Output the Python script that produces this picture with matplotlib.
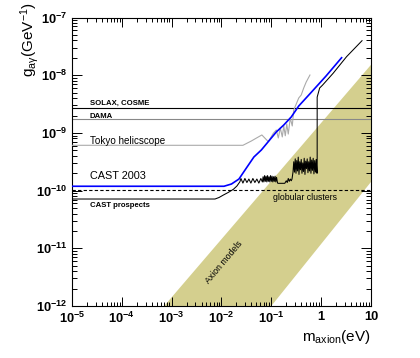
import numpy as np
import matplotlib
matplotlib.use("Agg")
import matplotlib.pyplot as plt
from matplotlib.ticker import LogLocator, FuncFormatter, NullFormatter

plt.rcParams['font.family'] = ['Liberation Sans', 'DejaVu Sans']
plt.rcParams['mathtext.default'] = 'regular'

# all values are log10 (m in eV, g in GeV^-1)
solax_log_g = -8.56
dama_log_g = -8.76
globular_log_g = -9.984

tokyo_log_m = [-5, -1.57, -1.40, -1.30, -1.19, -1.06, -0.96, -0.90, -0.86, -0.82, -0.78,
               -0.75, -0.72, -0.69, -0.66, -0.62, -0.58, -0.55, -0.50, -0.45, -0.40,
               -0.35, -0.30, -0.225]
tokyo_log_g = [-9.215, -9.215, -9.14, -9.09, -9.036, -9.152, -9.007, -8.95, -9.088, -8.915,
               -9.07, -8.88, -9.05, -8.846, -9.02, -8.742, -8.88, -8.603, -8.50, -8.395,
               -8.343, -8.222, -8.118, -7.997]

cast2003_log_m = [-5, -1.95, -1.80, -1.65, -1.50, -1.35, -1.20, -1.05, -0.90, -0.75,
                  -0.60, -0.45, -0.20, 0.10, 0.41]
cast2003_log_g = [-9.925, -9.925, -9.886, -9.80, -9.608, -9.418, -9.296, -9.14, -8.984,
                  -8.863, -8.724, -8.534, -8.298, -8.012, -7.697]

prosp_log_m = [-5, -2.13, -2.05, -1.96, -1.86, -1.76, -1.69, -1.63,
               -1.61, -1.57, -1.53, -1.49, -1.45, -1.41, -1.37, -1.33, -1.29, -1.25, -1.21, -1.18,
               -1.165, -1.15, -1.135, -1.12, -1.105, -1.09, -1.075, -1.06, -1.045, -1.03,
               -1.015, -1.0, -0.985, -0.97, -0.955, -0.94, -0.925, -0.91, -0.895, -0.875,
               -0.86, -0.73, -0.70, -0.68, -0.66, -0.64, -0.62, -0.60, -0.585, -0.565,
               -0.55, -0.535, -0.52, -0.505, -0.49, -0.475, -0.46, -0.445, -0.43, -0.415,
               -0.40, -0.385, -0.37, -0.355, -0.34, -0.325, -0.31, -0.295, -0.28, -0.265,
               -0.25, -0.235, -0.22, -0.205, -0.19, -0.175, -0.16, -0.145, -0.13, -0.115,
               -0.10, -0.085, -0.08, -0.08, -0.03, 0.03, 0.24, 0.51, 0.82]
prosp_log_g = [-10.146, -10.146, -10.12, -10.076, -10.03, -9.977, -9.92, -9.846,
               -9.79, -9.87, -9.79, -9.86, -9.80, -9.87, -9.79, -9.86, -9.80, -9.87, -9.79, -9.85,
               -9.76, -9.85, -9.74, -9.84, -9.75, -9.85, -9.74, -9.84, -9.76, -9.85,
               -9.74, -9.84, -9.75, -9.85, -9.76, -9.84, -9.75, -9.85, -9.77, -9.87,
               -9.874, -9.874, -9.83, -9.86, -9.79, -9.84, -9.80, -9.83, -9.80, -9.68,
               -9.50, -9.68, -9.45, -9.70, -9.48, -9.66, -9.42, -9.72, -9.50, -9.64,
               -9.46, -9.70, -9.52, -9.67, -9.44, -9.72, -9.49, -9.62, -9.45, -9.69,
               -9.50, -9.66, -9.42, -9.70, -9.47, -9.65, -9.44, -9.71, -9.48, -9.68,
               -9.46, -9.70, -9.70, -8.38, -8.222, -8.17, -7.967, -7.679, -7.402]

# axion model band corners
band_log_m = [-3.15, 1.0, 1.0, -1.0]
band_log_g = [-12.0, -7.82, -9.85, -12.0]

fig = plt.figure(figsize=(4.2, 3.58), dpi=100)
ax = fig.add_axes([0.1714, 0.1453, 0.7119, 0.8058])
ax.set_xscale('log')
ax.set_yscale('log')
ax.set_xlim(1e-5, 10)
ax.set_ylim(1e-12, 1e-7)

ax.fill(10**np.array(band_log_m), 10**np.array(band_log_g), color='#d4cf8e', lw=0, zorder=1)

ax.axhline(10**solax_log_g, color='black', lw=0.8, zorder=2)
ax.axhline(10**dama_log_g, color='#888888', lw=0.8, zorder=2)
ax.axhline(10**globular_log_g, color='black', lw=0.8, ls=(0, (3, 2)), zorder=2)
ax.plot(10**np.array(tokyo_log_m), 10**np.array(tokyo_log_g), color='#aaaaaa', lw=0.8, zorder=3)
ax.plot(10**np.array(prosp_log_m), 10**np.array(prosp_log_g), color='black', lw=0.75, zorder=4)
ax.plot(10**np.array(cast2003_log_m), 10**np.array(cast2003_log_g), color='#0000ff', lw=1.2, zorder=5)

def put(lm, lg, s, **kw):
    ax.text(10**lm, 10**lg, s, va='baseline', ha='left', **kw)

put(-4.64, -8.516, 'SOLAX, COSME', fontsize=5.6, fontweight='bold')
put(-4.64, -8.747, 'DAMA', fontsize=5.6, fontweight='bold')
put(-4.64, -9.198, 'Tokyo helicscope', fontsize=7.1)
put(-4.64, -9.799, 'CAST 2003', fontsize=7.8)
put(-4.64, -10.279, 'CAST prospects', fontsize=5.6, fontweight='bold')
put(-0.966, -10.163, 'globular clusters', fontsize=6.3)
ax.text(10**-1.95, 10**-11.237, 'Axion models', fontsize=6.3, rotation=50,
        ha='center', va='center', rotation_mode='anchor')

ax.xaxis.set_major_locator(LogLocator(base=10, numticks=20))
ax.yaxis.set_major_locator(LogLocator(base=10, numticks=20))
ax.xaxis.set_minor_locator(LogLocator(base=10, subs=np.arange(2, 10), numticks=20))
ax.yaxis.set_minor_locator(LogLocator(base=10, subs=np.arange(2, 10), numticks=20))
ax.xaxis.set_minor_formatter(NullFormatter())
ax.yaxis.set_minor_formatter(NullFormatter())

def fmt(v, pos):
    e = int(round(np.log10(v)))
    if e == 0:
        return '1'
    if e == 1:
        return '10'
    return r'$\mathdefault{10^{%d}}$' % e

ax.xaxis.set_major_formatter(FuncFormatter(fmt))
ax.yaxis.set_major_formatter(FuncFormatter(fmt))
ax.tick_params(which='both', direction='in', top=True, right=True, width=0.7)
ax.tick_params(axis='x', which='major', length=6.2, pad=3.5)
ax.tick_params(axis='x', which='minor', length=3.1)
ax.tick_params(axis='y', which='major', length=7, pad=3.5)
ax.tick_params(axis='y', which='minor', length=3.8)
for lab in ax.get_xticklabels() + ax.get_yticklabels():
    lab.set_fontsize(9.3)
    lab.set_fontweight('bold')
for sp in ax.spines.values():
    sp.set_linewidth(0.8)

fig.text(0.07, 0.995, r'$g_{a\gamma}$(GeV$^{-1}$)', rotation=90, ha='center', va='top', fontsize=11)
fig.text(0.883, 0.048, r'$m_{axion}$(eV)', ha='right', va='baseline', fontsize=11)

fig.savefig('out.png', dpi=100)
